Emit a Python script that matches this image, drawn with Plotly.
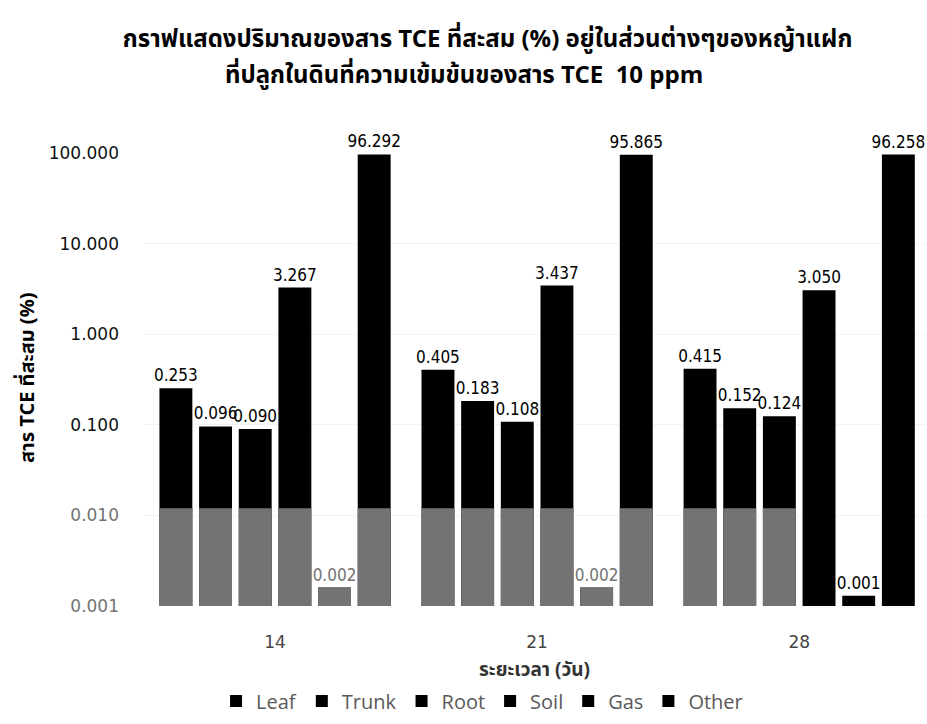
import plotly.graph_objects as go

# Sampling days (x categories)
days = ["14", "21", "28"]

# TCE accumulated (%) in each part, per sampling day
leaf = [0.253, 0.405, 0.415]
trunk = [0.096, 0.183, 0.152]
root = [0.090, 0.108, 0.124]
soil = [3.267, 3.437, 3.050]
gas = [0.0016, 0.0016, 0.0013]
other = [96.292, 95.865, 96.258]

series_names = ["Leaf", "Trunk", "Root", "Soil", "Gas", "Other"]
series_values = [leaf, trunk, root, soil, gas, other]

y_tick_values = [0.001, 0.01, 0.1, 1, 10, 100]
y_tick_labels = ["0.001", "0.010", "0.100", "1.000", "10.000", "100.000"]

title_line1 = "กราฟแสดงปริมาณของสาร TCE ที่สะสม (%) อยู่ในส่วนต่างๆของหญ้าแฝก"
title_line2 = "ที่ปลูกในดินที่ความเข้มข้นของสาร TCE&nbsp; 10 ppm"
x_title = "ระยะเวลา (วัน)"
y_title = "สาร TCE ที่สะสม (%)"

# Faded lower strip (shaded lighter grey) and which bars it spans
fade_top = 0.012
fade_cover = [
    [True, True, True],
    [True, True, True],
    [True, True, True],
    [True, True, False],
    [True, True, False],
    [True, True, False],
]

BAR_BLACK = "#000000"
FADE_GREY = "#737373"
LABEL_FONT = "DejaVu Sans Condensed, DejaVu Sans"
TICK_FONT = "DejaVu Sans"
THAI_FONT = "Noto Sans Thai, Tahoma, Noto Sans, DejaVu Sans, sans-serif"

W, H = 927, 724
M_L, M_R, M_T, M_B = 144, 2, 153, 118
PLOT_W = W - M_L - M_R
PLOT_H = H - M_T - M_B


def px_to_paper_x(px):
    return (px - M_L) / PLOT_W


def px_to_paper_y(py):
    return 1 - (py - M_T) / PLOT_H


fig = go.Figure()

for i, (name, vals) in enumerate(zip(series_names, series_values)):
    label_colors = []
    for j, v in enumerate(vals):
        in_fade = fade_cover[i][j] and v < fade_top
        label_colors.append(FADE_GREY if in_fade else BAR_BLACK)
    fig.add_trace(go.Bar(
        name=name,
        x=days,
        y=vals,
        offsetgroup=str(i),
        marker=dict(color=BAR_BLACK, line=dict(width=0)),
        texttemplate="%{y:.3f}",
        textposition="outside",
        constraintext="none",
        textfont=dict(family=LABEL_FONT, size=17, color=label_colors),
        cliponaxis=False,
    ))

# Lighter grey lower portion of the bars inside the faded strip
for i, vals in enumerate(series_values):
    faded = [min(v, fade_top) if fade_cover[i][j] else None
             for j, v in enumerate(vals)]
    fig.add_trace(go.Bar(
        x=days,
        y=faded,
        offsetgroup=str(i),
        marker=dict(color=FADE_GREY, line=dict(width=0)),
        showlegend=False,
        hoverinfo="skip",
    ))

tick_text = []
for v, t in zip(y_tick_values, y_tick_labels):
    if v < fade_top:
        tick_text.append(f"<span style='color:{FADE_GREY}'>{t}</span>")
    else:
        tick_text.append(t)

fig.update_layout(
    width=W,
    height=H,
    autosize=False,
    margin=dict(l=M_L, r=M_R, t=M_T, b=M_B),
    paper_bgcolor="white",
    plot_bgcolor="white",
    barmode="group",
    bargap=0.092,
    bargroupgap=0.17,
    title=dict(
        text=f"<b>{title_line1}</b>",
        font=dict(family=THAI_FONT, size=24, color="#000000"),
        xref="container", x=0.526, xanchor="center",
        yref="container", y=1 - 39 / H, yanchor="middle",
    ),
    xaxis=dict(
        type="category",
        range=[-0.5, 2.48],
        automargin=False,
        showgrid=False,
        showline=False,
        ticks="",
        ticklabelstandoff=24,
        tickfont=dict(family=TICK_FONT, size=17, color="#444444"),
    ),
    yaxis=dict(
        type="log",
        range=[-3, 2],
        automargin=False,
        tickvals=y_tick_values,
        ticktext=tick_text,
        tickfont=dict(family=TICK_FONT, size=17, color="#111111"),
        ticklabelstandoff=24,
        ticks="",
        showline=False,
        showgrid=True,
        gridcolor="#f3f3f3",
        gridwidth=1,
        zeroline=False,
    ),
    legend=dict(
        orientation="h",
        xref="container", x=0.52, xanchor="center",
        yref="container", y=1 - 701 / H, yanchor="middle",
        font=dict(family="Open Sans", size=20, color="#595959"),
        itemwidth=30,
        traceorder="normal",
    ),
)

# Second line of the heading
fig.add_annotation(
    text=f"<b>{title_line2}</b>",
    xref="paper", yref="paper",
    x=px_to_paper_x(464), y=px_to_paper_y(76),
    xanchor="center", yanchor="middle",
    showarrow=False,
    font=dict(family=THAI_FONT, size=24, color="#000000"),
)

# Axis titles
fig.add_annotation(
    text=f"<b>{x_title}</b>",
    xref="paper", yref="paper",
    x=px_to_paper_x(534), y=px_to_paper_y(670),
    xanchor="center", yanchor="middle",
    showarrow=False,
    font=dict(family=THAI_FONT, size=19, color="#333333"),
)
fig.add_annotation(
    text=f"<b>{y_title}</b>",
    xref="paper", yref="paper",
    x=px_to_paper_x(28), y=px_to_paper_y(378),
    xanchor="center", yanchor="middle",
    textangle=-90,
    showarrow=False,
    font=dict(family=THAI_FONT, size=20, color="#000000"),
)

fig.write_html("out.html")
